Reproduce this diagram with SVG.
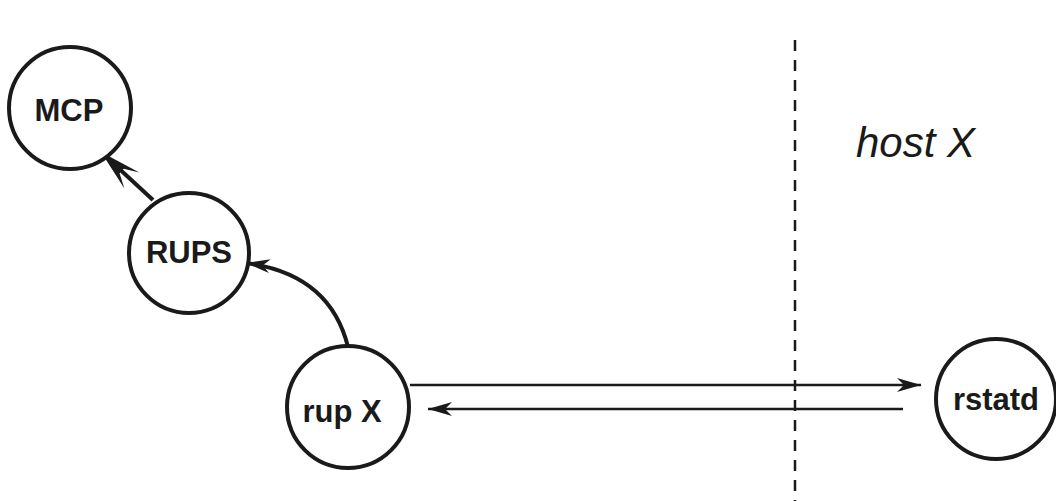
<svg xmlns="http://www.w3.org/2000/svg" width="1056" height="501" viewBox="0 0 1056 501">
  <style>
    .node circle { fill: #fff; stroke: #1a1a1a; stroke-width: 4; }
    .node text { font-family: "Liberation Sans", Arial, sans-serif; font-weight: bold; font-size: 31px; fill: #1a1a1a; text-anchor: middle; }
    .edge { fill: none; stroke: #1a1a1a; }
    .thick { stroke-width: 4; }
    .thin { stroke-width: 2.5; }
    .boundary { stroke: #1a1a1a; stroke-width: 2.5; stroke-dasharray: 11 9; }
    .label { font-family: "Liberation Sans", Arial, sans-serif; font-style: italic; font-size: 42px; fill: #1a1a1a; }
  </style>
  <defs>
    <marker id="head-big" markerUnits="userSpaceOnUse" viewBox="-44 -13 46 26" refX="0" refY="0" markerWidth="46" markerHeight="26" orient="auto">
      <path d="M0,0 L-42,-11 L-28,-3 L-28,3 L-42,11 Z" fill="#1a1a1a"/>
    </marker>
    <marker id="head-small" markerUnits="userSpaceOnUse" viewBox="-26 -8 28 16" refX="0" refY="0" markerWidth="28" markerHeight="16" orient="auto">
      <path d="M0,0 L-24,-7 L-17,0 L-24,7 Z" fill="#1a1a1a"/>
    </marker>
  </defs>

  <rect width="1056" height="501" fill="#fff"/>

  <!-- host boundary -->
  <line class="boundary" x1="795" y1="40" x2="795" y2="501"/>
  <text class="label" x="856" y="157">host X</text>

  <!-- connectors -->
  <g id="connectors">
    <line class="edge thick" x1="153" y1="200" x2="101" y2="152" marker-end="url(#head-big)"/>
    <path class="edge thick" d="M348,347 Q330,274 246,263" marker-end="url(#head-small)"/>
    <line class="edge thin" x1="410" y1="385" x2="921" y2="385" marker-end="url(#head-small)"/>
    <line class="edge thin" x1="903" y1="409" x2="428" y2="409" marker-end="url(#head-small)"/>
  </g>

  <!-- nodes -->
  <g id="node-mcp" class="node">
    <circle cx="70" cy="108" r="61"/>
    <text x="69" y="121">MCP</text>
  </g>
  <g id="node-rups" class="node">
    <circle cx="189" cy="253" r="60"/>
    <text x="189" y="263">RUPS</text>
  </g>
  <g id="node-rupx" class="node">
    <circle cx="348" cy="407" r="61"/>
    <text x="342" y="422">rup X</text>
  </g>
  <g id="node-rstatd" class="node">
    <circle cx="996" cy="399" r="60"/>
    <text x="996" y="410">rstatd</text>
  </g>
</svg>
